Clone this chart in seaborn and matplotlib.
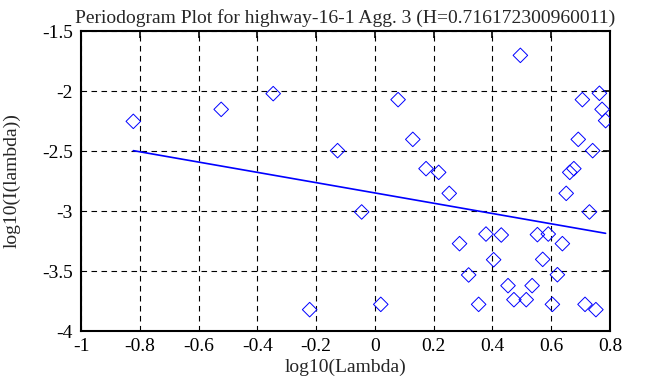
import numpy as np
import pandas as pd
import matplotlib
matplotlib.use("Agg")
import matplotlib.pyplot as plt
import seaborn as sns

# periodogram points (log10 lambda, log10 I(lambda))
log_lambda = [-0.822, -0.523, -0.346, -0.222, -0.127, -0.045, 0.020, 0.079, 0.129,
              0.174, 0.217, 0.253, 0.288, 0.319, 0.353, 0.378, 0.404, 0.430, 0.453,
              0.473, 0.495, 0.515, 0.535, 0.553, 0.571, 0.590, 0.604, 0.621, 0.638,
              0.651, 0.663, 0.677, 0.692, 0.706, 0.715, 0.730, 0.741, 0.752, 0.764,
              0.773, 0.785]
log_I = [-2.253, -2.153, -2.022, -3.822, -2.497, -3.008, -3.778, -2.072, -2.403,
         -2.647, -2.678, -2.853, -3.272, -3.533, -3.778, -3.192, -3.406, -3.200, -3.622,
         -3.739, -1.703, -3.739, -3.622, -3.197, -3.403, -3.192, -3.778, -3.531, -3.272,
         -2.853, -2.678, -2.647, -2.403, -2.072, -3.778, -3.008, -2.497, -3.822, -2.019,
         -2.153, -2.247]

# least squares line as drawn in the picture
fit_x = [-0.822, 0.785]
fit_y = [-2.497, -3.186]

title = "Periodogram Plot for highway-16-1 Agg. 3 (H=0.716172300960011)"

df = pd.DataFrame({"x": log_lambda, "y": log_I})

sns.set_style("white")
plt.rcParams['font.family'] = ['Liberation Serif', 'DejaVu Serif']

fig = plt.figure(figsize=(6.63, 3.87), dpi=100)
ax = fig.add_axes([81 / 663, 1 - 331 / 387, 529 / 663, 300 / 387])

sns.scatterplot(data=df, x="x", y="y", ax=ax, marker="D", s=55,
                facecolors="none", edgecolor="blue", linewidth=0.7, zorder=3)
sns.lineplot(x=fit_x, y=fit_y, ax=ax, color="blue", linewidth=1.2, zorder=3)

ax.set_xlim(-1, 0.8)
ax.set_ylim(-4, -1.5)
ax.set_xticks(np.arange(-1, 0.81, 0.2))
ax.set_yticks([-4, -3.5, -3, -2.5, -2, -1.5])
ax.set_xticklabels(["-1", "-0.8", "-0.6", "-0.4", "-0.2", "0", "0.2", "0.4", "0.6", "0.8"])
ax.set_yticklabels(["-4", "-3.5", "-3", "-2.5", "-2", "-1.5"])
ax.grid(True, color="black", linestyle=(0, (5, 4)), linewidth=0.8)
ax.tick_params(direction="in", length=5, width=1.2, top=True, right=True,
               labelsize=14, colors="black")
ax.tick_params(axis="x", pad=5)
ax.tick_params(axis="y", pad=6)
for s in ax.spines.values():
    s.set_linewidth(1.5)
    s.set_color("black")

ax.set_xlabel("log10(Lambda)", fontsize=14, labelpad=3)
ax.set_ylabel("log10(I(lambda))", fontsize=14, labelpad=15)
ax.set_title(title, fontsize=14, pad=6)

fig.savefig("out.png", dpi=100, facecolor="white")
